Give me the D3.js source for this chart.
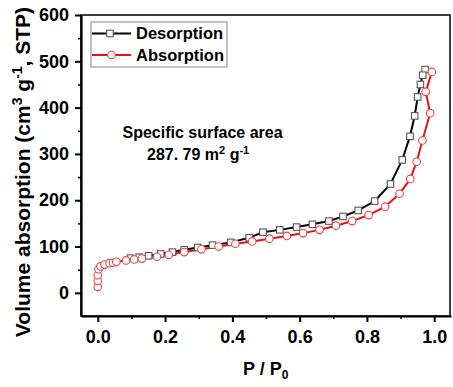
<!DOCTYPE html>
<html lang="en">
<head>
    <meta charset="UTF-8">
    <title>Isotherm</title>
    <script src="https://d3js.org/d3.v7.min.js"></script>
    <style>
        body { margin: 0; background: #fff; }
        svg { display: block; font-family: "Liberation Sans", Arial, sans-serif; font-weight: bold; }
        .axis path, .axis line { stroke: #000; }
        .axis text { font-size: 18px; font-weight: bold; fill: #000; font-family: "Liberation Sans", Arial, sans-serif; }
    </style>
</head>
<body>
<div id="chart"></div>
<script>
    // desorption branch (high -> low pressure)
    const desP = [0.973, 0.966, 0.959, 0.951, 0.942, 0.928, 0.905, 0.870, 0.823, 0.774, 0.729, 0.687, 0.638,
                  0.591, 0.541, 0.491, 0.450, 0.395, 0.341, 0.297, 0.257, 0.222, 0.187, 0.151, 0.123, 0.097];
    const desV = [482, 470, 450, 423, 382, 338, 287, 235, 198, 178, 165, 155, 148,
                  142, 136, 131, 119, 109, 103, 98, 93, 88, 84, 80, 77, 75];

    // adsorption branch (low -> high pressure)
    const absP = [0.000, 0.000, 0.000, 0.002, 0.008, 0.020, 0.035, 0.045, 0.055, 0.084, 0.108, 0.131, 0.176,
                  0.211, 0.257, 0.308, 0.359, 0.409, 0.459, 0.510, 0.562, 0.610, 0.659, 0.708, 0.756, 0.805,
                  0.854, 0.897, 0.929, 0.948, 0.965, 0.988, 0.975, 0.993];
    const absV = [13, 26, 38, 51, 57, 61, 64, 65, 67, 70, 72, 74, 78,
                  82, 88, 94, 100, 106, 111, 117, 123, 129, 136, 145, 155, 168,
                  186, 214, 246, 283, 329, 388, 434, 477];

    const xTicks = [0, 0.2, 0.4, 0.6, 0.8, 1.0];
    const xMinor = [0.1, 0.3, 0.5, 0.7, 0.9];
    const yTicks = [0, 100, 200, 300, 400, 500, 600];
    const yMinor = [50, 150, 250, 350, 450, 550];

    const W = 453, H = 387;
    const margin = { left: 81, right: 2, top: 15, bottom: 71 };

    const svg = d3.select("#chart").append("svg").attr("width", W).attr("height", H);

    const x = d3.scaleLinear().domain([-0.05, 1.05]).range([margin.left, W - margin.right]);
    const y = d3.scaleLinear().domain([-50, 600]).range([H - margin.bottom, margin.top]);

    // frame (top / right)
    svg.append("rect")
        .attr("x", x(-0.05)).attr("y", y(600))
        .attr("width", x(1.05) - x(-0.05) - 1).attr("height", y(-50) - y(600))
        .attr("fill", "none").attr("stroke", "#000").attr("stroke-width", 1.5);

    // axes
    const xAxis = svg.append("g").attr("class", "axis")
        .attr("transform", `translate(0,${y(-50)})`)
        .call(d3.axisBottom(x).tickValues(xTicks).tickSize(6).tickSizeOuter(0).tickPadding(8)
            .tickFormat(d3.format(".1f")));
    xAxis.select(".domain").attr("stroke-width", 2.2);
    xAxis.selectAll(".tick line").attr("stroke-width", 2);

    svg.append("g").attr("class", "axis minor")
        .attr("transform", `translate(0,${y(-50)})`)
        .call(d3.axisBottom(x).tickValues(xMinor).tickSize(3).tickFormat(""))
        .call(g => g.select(".domain").remove())
        .selectAll("line").attr("stroke-width", 1.5);

    const yAxis = svg.append("g").attr("class", "axis")
        .attr("transform", `translate(${x(-0.05)},0)`)
        .call(d3.axisLeft(y).tickValues(yTicks).tickSize(6).tickSizeOuter(0).tickPadding(6));
    yAxis.select(".domain").attr("stroke-width", 2.2);
    yAxis.selectAll(".tick line").attr("stroke-width", 2);

    svg.append("g").attr("class", "axis minor")
        .attr("transform", `translate(${x(-0.05)},0)`)
        .call(d3.axisLeft(y).tickValues(yMinor).tickSize(3).tickFormat(""))
        .call(g => g.select(".domain").remove())
        .selectAll("line").attr("stroke-width", 1.5);

    // series
    const des = desP.map((p, i) => ({ p, v: desV[i] }));
    const abs = absP.map((p, i) => ({ p, v: absV[i] }));
    const line = d3.line().x(d => x(d.p)).y(d => y(d.v));

    svg.append("path").datum(des).attr("d", line)
        .attr("fill", "none").attr("stroke", "#000").attr("stroke-width", 2);
    svg.append("path").datum(abs).attr("d", line)
        .attr("fill", "none").attr("stroke", "#e8120f").attr("stroke-width", 2);

    const sq = 6.5;
    svg.selectAll(".sq").data(des).enter().append("rect")
        .attr("x", d => x(d.p) - sq / 2).attr("y", d => y(d.v) - sq / 2)
        .attr("width", sq).attr("height", sq)
        .attr("fill", "#fff").attr("stroke", "#555").attr("stroke-width", 1.1);

    svg.selectAll(".ci").data(abs).enter().append("circle")
        .attr("cx", d => x(d.p)).attr("cy", d => y(d.v)).attr("r", 3.8)
        .attr("fill", "#fff").attr("stroke", "#e84545").attr("stroke-width", 1.1);

    // legend
    const lg = svg.append("g");
    lg.append("rect").attr("x", 91).attr("y", 22).attr("width", 136).attr("height", 45)
        .attr("fill", "#fff").attr("stroke", "#999").attr("stroke-width", 1.2);
    lg.append("line").attr("x1", 92).attr("x2", 131).attr("y1", 33.5).attr("y2", 33.5)
        .attr("stroke", "#000").attr("stroke-width", 2);
    lg.append("rect").attr("x", 110 - sq / 2).attr("y", 33.5 - sq / 2).attr("width", sq).attr("height", sq)
        .attr("fill", "#fff").attr("stroke", "#555").attr("stroke-width", 1.1);
    lg.append("line").attr("x1", 92).attr("x2", 131).attr("y1", 55).attr("y2", 55)
        .attr("stroke", "#e8120f").attr("stroke-width", 2);
    lg.append("circle").attr("cx", 111.5).attr("cy", 55).attr("r", 3.8)
        .attr("fill", "#fff").attr("stroke", "#e84545").attr("stroke-width", 1.1);
    lg.append("text").attr("x", 136).attr("y", 39).attr("font-size", 16.5).text("Desorption");
    lg.append("text").attr("x", 136).attr("y", 60.5).attr("font-size", 16.5).text("Absorption");

    // annotation
    svg.append("text").attr("x", 202.5).attr("y", 138).attr("text-anchor", "middle")
        .attr("font-size", 16).text("Specific surface area");
    const t2 = svg.append("text").attr("x", 147).attr("y", 160).attr("font-size", 16);
    t2.append("tspan").text("287. 79 m");
    t2.append("tspan").attr("font-size", 11).attr("dy", -6).text("2");
    t2.append("tspan").attr("dy", 6).text(" g");
    t2.append("tspan").attr("font-size", 11).attr("dy", -6).text("-1");

    // axis titles
    const xt = svg.append("text").attr("x", 243).attr("y", 375).attr("font-size", 18);
    xt.append("tspan").text("P / P");
    xt.append("tspan").attr("font-size", 12).attr("dy", 4).text("0");

    const yt = svg.append("text").attr("transform", "translate(30,172) rotate(-90)")
        .attr("text-anchor", "middle").attr("font-size", 21);
    yt.append("tspan").text("Volume absorption (cm");
    yt.append("tspan").attr("font-size", 14).attr("dy", -8).text("3");
    yt.append("tspan").attr("dy", 8).text(" g");
    yt.append("tspan").attr("font-size", 14).attr("dy", -8).text("-1");
    yt.append("tspan").attr("dy", 8).text(", STP)");
</script>
</body>
</html>
